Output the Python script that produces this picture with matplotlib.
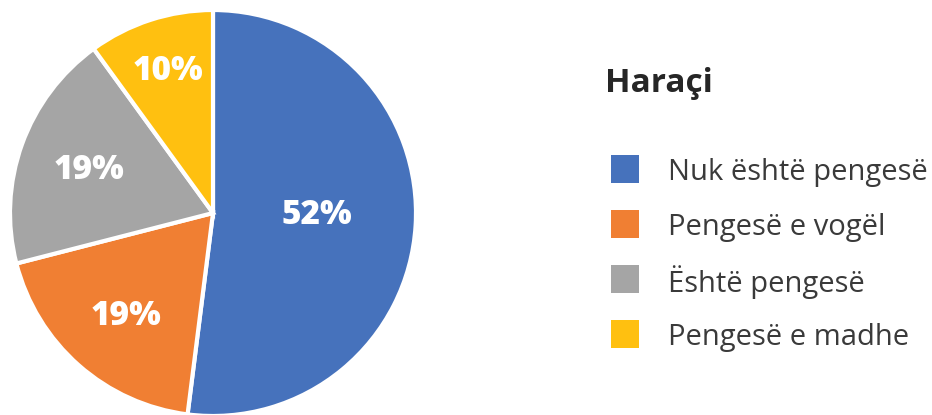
import matplotlib.pyplot as plt
from matplotlib.patches import Rectangle
import numpy as np

plt.rcParams['font.family'] = ['Open Sans', 'DejaVu Sans']

# data
categories = ['Nuk është pengesë', 'Pengesë e vogël', 'Është pengesë', 'Pengesë e madhe']
values = [52, 19, 19, 10]
colors = ['#4672BC', '#F07F33', '#A5A5A5', '#FFC010']
title = 'Haraçi'

W, H = 932, 415
fig = plt.figure(figsize=(W / 100, H / 100), dpi=100)

# pie axes: center (213, 213) px, radius ~202 px
cx, cy, r = 213, 213, 203
ax = fig.add_axes([(cx - r) / W, (H - cy - r) / H, 2 * r / W, 2 * r / H])
wedges, _ = ax.pie(values, colors=colors, startangle=90, counterclock=False,
                   wedgeprops=dict(edgecolor='white', linewidth=3))
ax.set_xlim(-1, 1)
ax.set_ylim(-1, 1)
ax.set_aspect('equal')

# percent labels
label_r = [0.5, 0.66, 0.66, 0.75]
for w, v, lr in zip(wedges, values, label_r):
    ang = np.deg2rad((w.theta1 + w.theta2) / 2)
    if v == max(values):
        x, y = lr, 0
    else:
        x, y = lr * np.cos(ang), lr * np.sin(ang)
    ax.text(x + 0.01, y - 0.012, f'{v}%', ha='center', va='center', color='white',
            fontsize=24, fontweight='heavy')

# legend drawn by hand
fig.text(605 / W, 1 - 84 / H, title, fontsize=24, fontweight='bold',
         color='#262626', ha='left', va='center')
rows = [169, 224, 279, 334]
for cat, col, y in zip(categories, colors, rows):
    sq = 28
    fig.patches.append(Rectangle((611 / W, 1 - (y + sq / 2) / H), sq / W, sq / H,
                                 transform=fig.transFigure, facecolor=col,
                                 edgecolor='none'))
    fig.text(668 / W, 1 - (y + 3) / H, cat, fontsize=21, color='#3a3a3a',
             ha='left', va='center')

fig.savefig('out.png', dpi=100)
